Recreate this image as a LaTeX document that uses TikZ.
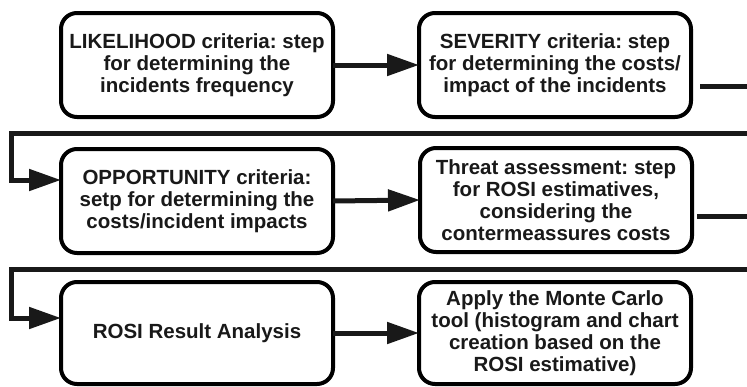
\documentclass[tikz,border=0pt]{standalone}
\usepackage{fontspec}
\setmainfont{Liberation Sans}
\usetikzlibrary{arrows.meta}
\tikzset{
  stepbox/.style={draw=black, line width=4pt, rounded corners=16pt, fill=white,
    minimum width=272pt, minimum height=104pt, outer sep=0pt, inner sep=2pt,
    align=center, font=\fontsize{20.5}{22}\selectfont\bfseries\frenchspacing, text=black!90},
  conn/.style={draw=black!90, line width=5pt},
  tip/.style={-{Triangle[length=32pt,width=21pt]}}
}
\begin{document}
\begin{tikzpicture}[x=1pt,y=-1pt]
\useasboundingbox (0,0) rectangle (747,386);
\node[stepbox] (b1) at (197,65) {LIKELIHOOD criteria: step\\for determining the\\incidents frequency};
\node[stepbox] (b2) at (555,65) {SEVERITY criteria: step\\for determining the costs/\\impact of the incidents};
\node[stepbox] (b3) at (197,201) {OPPORTUNITY criteria:\\setp for determining the\\costs/incident impacts};
\node[stepbox] (b4) at (556,200) {Threat assessment: step\\for ROSI estimatives,\\considering the\\contermeassures costs};
\node[stepbox, minimum height=102pt] (b5) at (197,333) {ROSI Result Analysis};
\node[stepbox, minimum height=102pt] (b6) at (555,333) {Apply the Monte Carlo\\tool (histogram and chart\\creation based on the\\ROSI estimative)};
\draw[conn,tip] (b1.east) -- (b2.west);
\draw[conn,tip] (b3.east) -- (b4.west);
\draw[conn,tip] (b5.east) -- (b6.west);
\draw[conn,tip] ([xshift=9pt,yshift=-21pt]b2.east) -| (770,133) -- (11.5,133) |- ([yshift=21pt]b3.west);
\draw[conn,tip] ([xshift=5pt,yshift=-16pt]b4.east) -| (770,269) -- (11.5,269) |- ([yshift=15pt]b5.west);
\end{tikzpicture}
\end{document}
